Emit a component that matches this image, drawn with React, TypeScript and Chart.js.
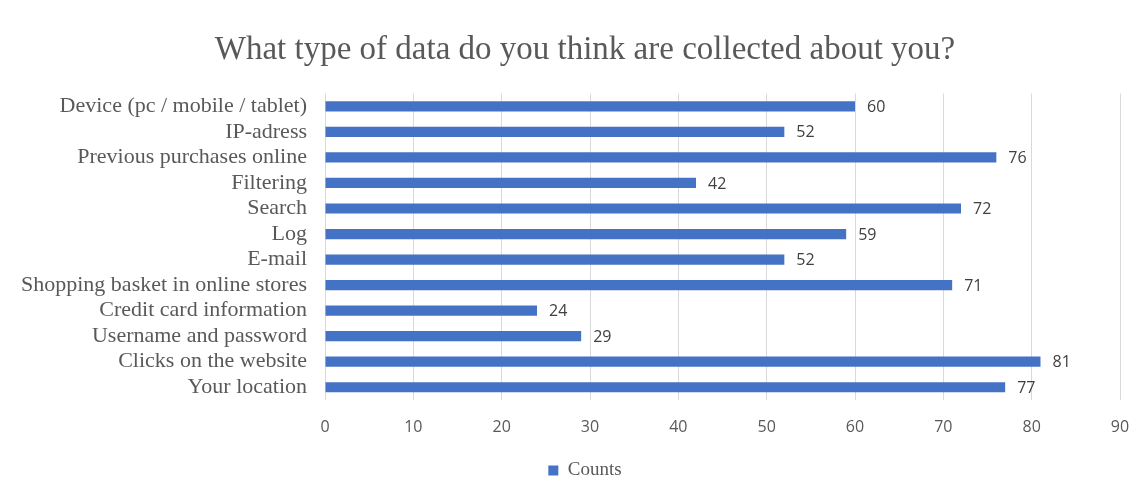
import React, { useEffect, useRef } from "react";
import { Chart, registerables } from "chart.js";

Chart.register(...registerables);

const title = "What type of data do you think are collected about you?";
const categories = [
  "Device (pc / mobile / tablet)",
  "IP-adress",
  "Previous purchases online",
  "Filtering",
  "Search",
  "Log",
  "E-mail",
  "Shopping basket in online stores",
  "Credit card information",
  "Username and password",
  "Clicks on the website",
  "Your location",
];
const counts = [60, 52, 76, 42, 72, 59, 52, 71, 24, 29, 81, 77];
const seriesName = "Counts";
const axisMin = 0;
const axisMax = 90;
const axisStep = 10;

const barColor = "#4472C4";
const textColor = "#595959";
const serif = "'Liberation Serif', 'DejaVu Serif', serif";
const sans = "'Open Sans', 'Liberation Sans', sans-serif";

// Writes each bar's value just past its end
const valueLabels = {
  id: "valueLabels",
  afterDatasetsDraw(chart: any) {
    const { ctx } = chart;
    const meta = chart.getDatasetMeta(0);
    const data = chart.data.datasets[0].data as number[];
    ctx.save();
    ctx.font = `16px ${sans}`;
    ctx.fillStyle = "#404040";
    ctx.textAlign = "left";
    ctx.textBaseline = "middle";
    meta.data.forEach((bar: any, i: number) => {
      ctx.fillText(String(data[i]), bar.x + 12, bar.y + 1);
    });
    ctx.restore();
  },
};

// Nudges the title and legend blocks to the right so they sit centred over the whole figure
const headerShift = {
  id: "headerShift",
  afterLayout(chart: any) {
    const dx = 25;
    [chart.titleBlock, chart.legend].forEach((box: any) => {
      if (!box) return;
      box.left += dx;
      box.right += dx;
    });
  },
};

export default function App() {
  const canvasRef = useRef<HTMLCanvasElement>(null);

  useEffect(() => {
    if (!canvasRef.current) return;
    const chart = new Chart(canvasRef.current, {
      type: "bar",
      data: {
        labels: categories,
        datasets: [
          {
            label: seriesName,
            data: counts,
            backgroundColor: barColor,
            borderWidth: 0,
            barPercentage: 0.8,
            categoryPercentage: 0.5,
          },
        ],
      },
      options: {
        indexAxis: "y",
        animation: false,
        responsive: false,
        maintainAspectRatio: false,
        layout: { padding: { left: 0, right: 15, top: 0, bottom: -7 } },
        plugins: {
          title: {
            display: true,
            text: title,
            color: textColor,
            font: { family: serif, size: 33, weight: "normal" },
            padding: { top: 31, bottom: 23 },
          },
          legend: {
            position: "bottom",
            labels: {
              color: textColor,
              font: { family: serif, size: 19 },
              boxWidth: 10,
              boxHeight: 10,
              padding: 4,
            },
          },
          tooltip: { enabled: false },
        },
        scales: {
          x: {
            min: axisMin,
            max: axisMax,
            ticks: {
              stepSize: axisStep,
              color: textColor,
              font: { family: sans, size: 16 },
              padding: 18,
            },
            grid: { color: "#d9d9d9", lineWidth: 1, drawTicks: false },
            border: { display: false },
            afterFit(scale: any) {
              scale.paddingLeft = 0;
              scale.paddingRight = 0;
              scale.height = 57;
            },
          },
          y: {
            ticks: {
              color: textColor,
              font: { family: serif, size: 22 },
              padding: 10,
              autoSkip: false,
            },
            grid: { display: false },
            border: { display: false },
            afterFit(scale: any) {
              scale.width = 325;
            },
          },
        },
      },
      plugins: [valueLabels, headerShift],
    });
    return () => chart.destroy();
  }, []);

  return (
    <div style={{ position: "fixed", left: 0, top: 0, width: 1135, height: 483, background: "#fff" }}>
      <canvas ref={canvasRef} width={1135} height={483} />
    </div>
  );
}
